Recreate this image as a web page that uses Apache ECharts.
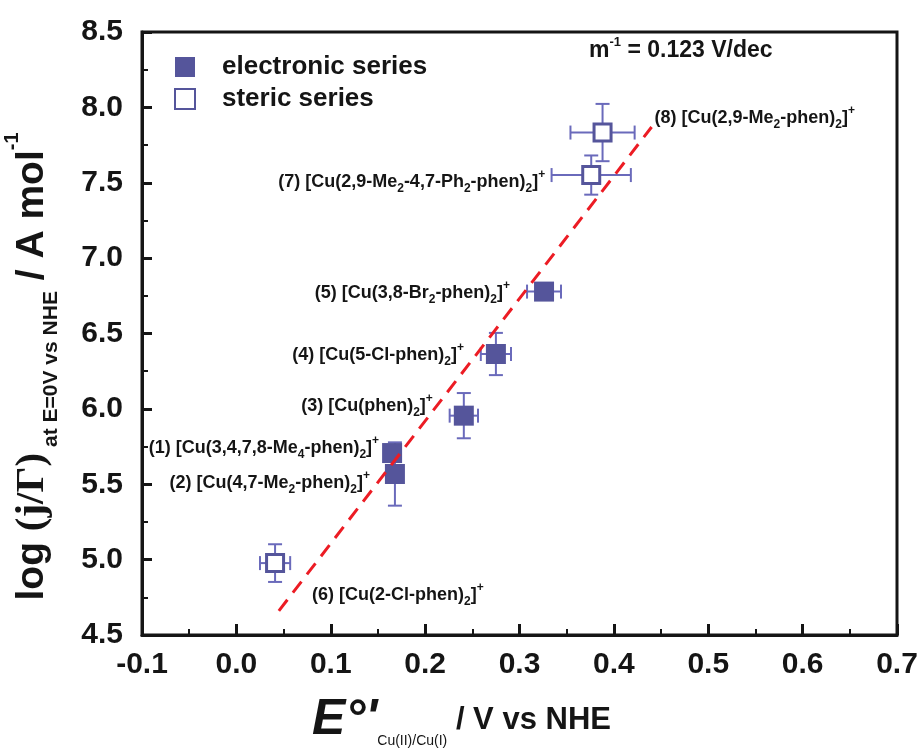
<!DOCTYPE html>
<html>
<head>
<meta charset="utf-8">
<script src="https://cdn.jsdelivr.net/npm/echarts@6/dist/echarts.min.js"></script>
<style>
html,body{margin:0;padding:0;background:#fff;}
#chart{width:918px;height:755px;}
</style>
</head>
<body>
<div id="chart"></div>
<script>
// ---------- data ----------
const elecNames = [
  '(1) [Cu(3,4,7,8-Me{s|4}-phen){s|2}]{p|+}',
  '(2) [Cu(4,7-Me{s|2}-phen){s|2}]{p|+}',
  '(3) [Cu(phen){s|2}]{p|+}',
  '(4) [Cu(5-Cl-phen){s|2}]{p|+}',
  '(5) [Cu(3,8-Br{s|2}-phen){s|2}]{p|+}'
];
const elecX = [0.165, 0.168, 0.241, 0.275, 0.326];
const elecY = [5.707, 5.568, 5.955, 6.364, 6.778];
const elecXErr = [0, 0, 0.015, 0.016, 0.018];
const elecYErr = [0, 0.21, 0.15, 0.14, 0.05];

const stericNames = [
  '(6) [Cu(2-Cl-phen){s|2}]{p|+}',
  '(7) [Cu(2,9-Me{s|2}-4,7-Ph{s|2}-phen){s|2}]{p|+}',
  '(8) [Cu(2,9-Me{s|2}-phen){s|2}]{p|+}'
];
const stericX = [0.041, 0.376, 0.388];
const stericY = [4.977, 7.551, 7.833];
const stericXErr = [0.016, 0.042, 0.034];
const stericYErr = [0.125, 0.13, 0.19];

const fitX = [0.045, 0.44];
const fitY = [4.66, 7.87];

const xMin = -0.1, xMax = 0.7, xStep = 0.1;
const yMin = 4.5, yMax = 8.5, yStep = 0.5;

const seriesNames = ['electronic series', 'steric series'];
const slopeText = '{a|m}{s|-1}{a| = 0.123 V/dec}';

// ---------- layout (not data) ----------
const elecPlace = [
  {pos: 'left', dist: 3, dy: -5},
  {pos: 'left', dist: 15, dy: 9},
  {pos: 'left', dist: 21, dy: -10},
  {pos: 'left', dist: 22, dy: 1},
  {pos: 'left', dist: 24, dy: 1}
];
const stericPlace = [
  {pos: 'right', dist: 27, dy: 32},
  {pos: 'left', dist: 36, dy: 7},
  {pos: 'right', dist: 42, dy: -15}
];

const FONT = "'Liberation Sans', Arial, Helvetica, sans-serif";
const BLUE = '#55559b';
const ERR = '#6a6abb';
const INK = '#151515';

const labelRich = {
  s: {fontSize: 12, fontWeight: 'bold', fontFamily: FONT, color: INK, verticalAlign: 'bottom', lineHeight: 12},
  p: {fontSize: 12, fontWeight: 'bold', fontFamily: FONT, color: INK, verticalAlign: 'top', lineHeight: 12}
};

function mkLabel(text, pl) {
  return {
    show: true, position: pl.pos, distance: pl.dist, offset: [0, pl.dy],
    formatter: text, fontSize: 18, fontWeight: 'bold', fontFamily: FONT,
    color: INK, lineHeight: 26, rich: labelRich
  };
}

const elecData = elecX.map((x, i) => ({value: [x, elecY[i]], label: mkLabel(elecNames[i], elecPlace[i])}));
const stericData = stericX.map((x, i) => ({value: [x, stericY[i]], label: mkLabel(stericNames[i], stericPlace[i])}));

const errData = elecX.map((x, i) => [x, elecY[i], elecXErr[i], elecYErr[i]])
  .concat(stericX.map((x, i) => [x, stericY[i], stericXErr[i], stericYErr[i]]));

function renderErr(params, api) {
  const x = api.value(0), y = api.value(1), xe = api.value(2), ye = api.value(3);
  const cap = 7;
  const st = {stroke: ERR, lineWidth: 2};
  const ch = [];
  if (ye > 0) {
    const a = api.coord([x, y + ye]), b = api.coord([x, y - ye]);
    ch.push({type: 'line', shape: {x1: a[0], y1: a[1], x2: b[0], y2: b[1]}, style: st});
    ch.push({type: 'line', shape: {x1: a[0] - cap, y1: a[1], x2: a[0] + cap, y2: a[1]}, style: st});
    ch.push({type: 'line', shape: {x1: b[0] - cap, y1: b[1], x2: b[0] + cap, y2: b[1]}, style: st});
  }
  if (xe > 0) {
    const a = api.coord([x - xe, y]), b = api.coord([x + xe, y]);
    ch.push({type: 'line', shape: {x1: a[0], y1: a[1], x2: b[0], y2: b[1]}, style: st});
    ch.push({type: 'line', shape: {x1: a[0], y1: a[1] - cap, x2: a[0], y2: a[1] + cap}, style: st});
    ch.push({type: 'line', shape: {x1: b[0], y1: b[1] - cap, x2: b[0], y2: b[1] + cap}, style: st});
  }
  return {type: 'group', children: ch};
}

const chart = echarts.init(document.getElementById('chart'));
const option = {
  animation: false,
  backgroundColor: '#fff',
  textStyle: {fontFamily: FONT},
  grid: {left: 142, right: 21, top: 32, bottom: 120, show: true, borderColor: INK, borderWidth: 3,
    containLabel: false, outerBoundsMode: 'none'},
  legend: {
    data: seriesNames, orient: 'vertical', left: 169, top: 49,
    itemWidth: 20, itemHeight: 20, itemGap: 6,
    textStyle: {fontSize: 26, fontWeight: 'bold', color: INK, fontFamily: FONT, padding: [0, 0, 0, 22]}
  },
  graphic: [{
    type: 'text', left: 589, top: 36,
    style: {text: slopeText, rich: {
      a: {fontSize: 23, fontWeight: 'bold', fontFamily: FONT, fill: INK, lineHeight: 30},
      s: {fontSize: 13, fontWeight: 'bold', fontFamily: FONT, fill: INK, verticalAlign: 'top', lineHeight: 14}
    }}
  }],
  xAxis: {
    type: 'value', min: xMin, max: xMax, interval: xStep,
    axisLine: {show: true, onZero: false, lineStyle: {color: INK, width: 3}},
    axisTick: {show: true, inside: true, length: 11, lineStyle: {color: INK, width: 3}},
    minorTick: {show: true, splitNumber: 2, length: 6, lineStyle: {color: INK, width: 2}},
    splitLine: {show: false},
    axisLabel: {fontSize: 30, fontWeight: 'bold', color: INK, fontFamily: FONT, margin: 15,
      formatter: v => v.toFixed(1)},
    name: "{E|E°'}{s|Cu(II)/Cu(I)}{m| / V vs NHE}",
    nameLocation: 'middle', nameGap: 57,
    nameTextStyle: {padding: [0, 116, 0, 0], rich: {
      E: {fontSize: 50, fontWeight: 'bold', fontStyle: 'italic', fontFamily: FONT, color: INK, lineHeight: 56},
      s: {fontSize: 14, fontFamily: FONT, color: INK, verticalAlign: 'bottom', lineHeight: 14},
      m: {fontSize: 31, fontWeight: 'bold', fontFamily: FONT, color: INK}
    }}
  },
  yAxis: {
    type: 'value', min: yMin, max: yMax, interval: yStep,
    axisLine: {show: true, onZero: false, lineStyle: {color: INK, width: 3}},
    axisTick: {show: true, inside: true, length: 10, lineStyle: {color: INK, width: 3}},
    minorTick: {show: true, splitNumber: 2, length: 6, lineStyle: {color: INK, width: 2}},
    splitLine: {show: false},
    axisLabel: {fontSize: 30, fontWeight: 'bold', color: INK, fontFamily: FONT, margin: 19,
      formatter: v => v.toFixed(1)},
    name: '{m|log }{g|(j/Γ)}{s| at E=0V vs NHE}{m| / A mol}{p|-1}',
    nameLocation: 'middle', nameRotate: 90, nameGap: 80,
    nameTextStyle: {padding: [0, 66, 0, 0], rich: {
      m: {fontSize: 39, fontWeight: 'bold', fontFamily: FONT, color: INK, lineHeight: 60},
      g: {fontSize: 41, fontWeight: 'bold', fontFamily: "'Liberation Serif', 'DejaVu Serif', serif", color: INK, lineHeight: 60},
      s: {fontSize: 21, fontWeight: 'bold', fontFamily: FONT, color: INK, verticalAlign: 'bottom', lineHeight: 21},
      p: {fontSize: 20, fontWeight: 'bold', fontFamily: FONT, color: INK, verticalAlign: 'top', lineHeight: 30}
    }}
  },
  series: [
    {type: 'custom', name: 'err', coordinateSystem: 'cartesian2d', renderItem: renderErr,
      data: errData, z: 2, silent: true},
    {type: 'scatter', name: seriesNames[0], symbol: 'rect', symbolSize: 20,
      itemStyle: {color: BLUE, opacity: 1}, data: elecData, z: 4},
    {type: 'scatter', name: seriesNames[1], symbol: 'rect', symbolSize: 17,
      itemStyle: {color: '#fff', borderColor: BLUE, borderWidth: 3, opacity: 1}, data: stericData, z: 4},
    {type: 'line', name: 'fit', data: fitX.map((x, i) => [x, fitY[i]]), showSymbol: false, symbol: 'none',
      lineStyle: {color: '#ec1c24', width: 3, type: [14, 9]}, z: 5, silent: true}
  ]
};
chart.setOption(option);
</script>
</body>
</html>
